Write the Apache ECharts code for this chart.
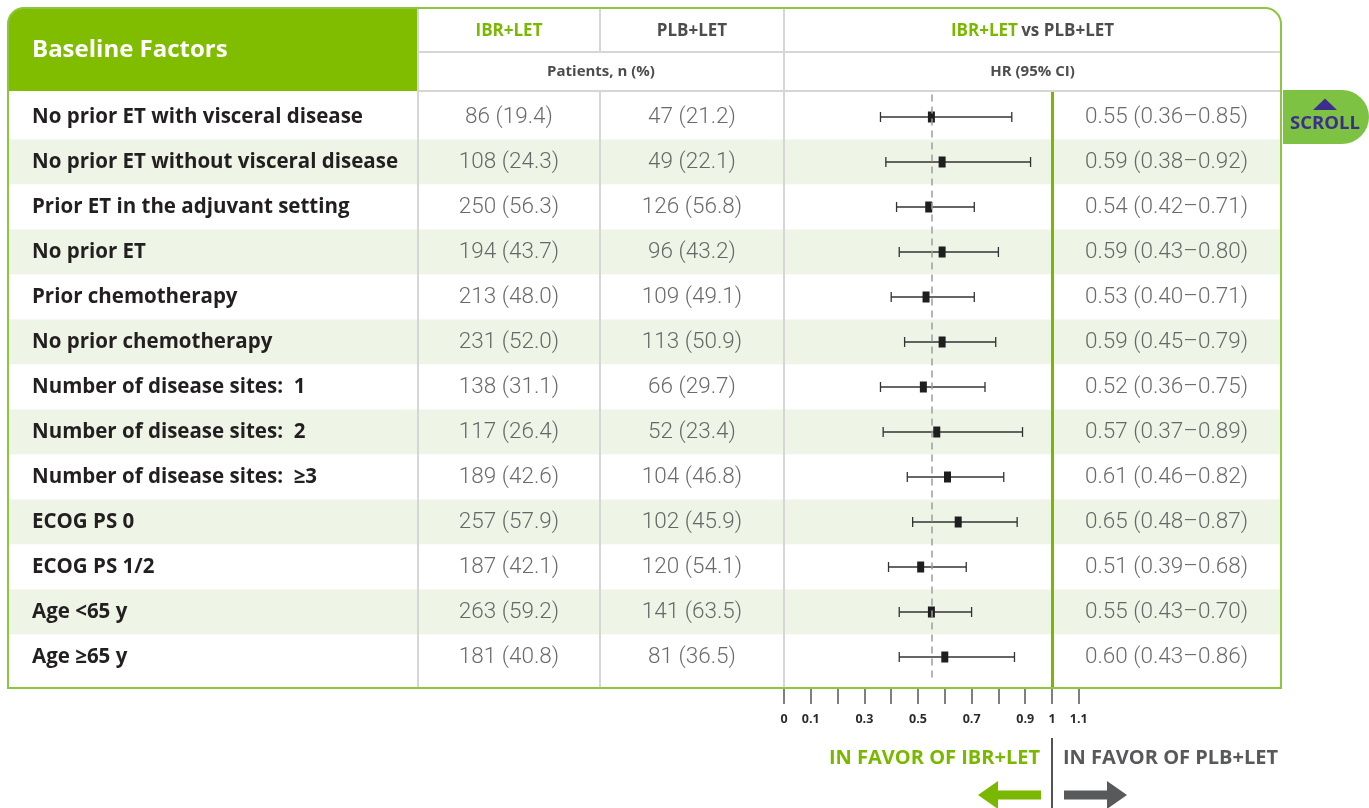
<!DOCTYPE html>
<html>
<head>
<meta charset="utf-8">
<title>Baseline Factors – HR forest plot</title>
<script src="https://cdn.jsdelivr.net/npm/echarts@6/dist/echarts.min.js"></script>
<style>
  html, body { margin: 0; padding: 0; background: #ffffff; }
  #chart { width: 1369px; height: 808px; }
</style>
</head>
<body>
<div id="chart"></div>
<script>
// ---- Data -------------------------------------------------------------
const factors = [
  'No prior ET with visceral disease',
  'No prior ET without visceral disease',
  'Prior ET in the adjuvant setting',
  'No prior ET',
  'Prior chemotherapy',
  'No prior chemotherapy',
  'Number of disease sites:  1',
  'Number of disease sites:  2',
  'Number of disease sites:  \u22653',
  'ECOG PS 0',
  'ECOG PS 1/2',
  'Age <65 y',
  'Age \u226565 y'
];
const ibrN   = [86, 108, 250, 194, 213, 231, 138, 117, 189, 257, 187, 263, 181];
const ibrPct = [19.4, 24.3, 56.3, 43.7, 48.0, 52.0, 31.1, 26.4, 42.6, 57.9, 42.1, 59.2, 40.8];
const plbN   = [47, 49, 126, 96, 109, 113, 66, 52, 104, 102, 120, 141, 81];
const plbPct = [21.2, 22.1, 56.8, 43.2, 49.1, 50.9, 29.7, 23.4, 46.8, 45.9, 54.1, 63.5, 36.5];
const hrEst  = [0.55, 0.59, 0.54, 0.59, 0.53, 0.59, 0.52, 0.57, 0.61, 0.65, 0.51, 0.55, 0.60];
const hrLow  = [0.36, 0.38, 0.42, 0.43, 0.40, 0.45, 0.36, 0.37, 0.46, 0.48, 0.39, 0.43, 0.43];
const hrHigh = [0.85, 0.92, 0.71, 0.80, 0.71, 0.79, 0.75, 0.89, 0.82, 0.87, 0.68, 0.70, 0.86];
const overallHR = 0.55;
const xTickLabels = ['0', '0.1', '', '0.3', '', '0.5', '', '0.7', '', '0.9', '1', '1.1'];

// ---- Styling ----------------------------------------------------------
const FONT = '"Open Sans", "Noto Sans", sans-serif';
const NUM_FONT = 'Roboto, "Open Sans", sans-serif';
const GREEN = '#80bc00';
const BORDER_GREEN = '#8cc63f';
const GRID_GRAY = '#d6d6d6';
const LABEL_COLOR = '#231f20';
const NUM_COLOR = '#444547';
const HEAD_GRAY = '#4d4d4f';

// Table geometry
const TBL_L = 8, TBL_T = 8, TBL_R = 1281, TBL_B = 688;
const COL_IBR = 418, COL_PLB = 600, COL_HR = 784;
const HEAD_MID = 52, HEAD_B = 91;
const ROW_TOP = 94.5, ROW_H = 45, N = factors.length;
const PX_PER_HR = 268;                 // pixels for one HR unit on the plot
const HR_MAX = 1.1;

// Value-axis window for the forest grid so that its row centres line up
// with the category rows of the text columns, while the grid itself
// runs from the header bottom to the table bottom.
const F_TOP = HEAD_B, F_BOT = TBL_B;
const yMinF = (F_TOP - (ROW_TOP + ROW_H / 2)) / ROW_H;
const yMaxF = (F_BOT - (ROW_TOP + ROW_H / 2)) / ROW_H;

const rowIdx = factors.map((_, i) => i);

function catYAxis(gridIndex, extra) {
  return Object.assign({
    type: 'category', gridIndex, inverse: true, data: factors,
    axisLine: { show: false }, axisTick: { show: false },
    axisLabel: { show: false }, splitLine: { show: false }
  }, extra || {});
}
function hiddenX(gridIndex) {
  return { type: 'value', gridIndex, min: 0, max: 1, show: false };
}
function textColumn(gridIndex, formatter) {
  return {
    type: 'scatter', xAxisIndex: gridIndex, yAxisIndex: gridIndex,
    silent: true, symbolSize: 1, itemStyle: { color: 'transparent' },
    data: rowIdx.map(i => [0.5, i]),
    label: {
      show: true, position: 'inside',
      formatter: p => formatter(p.dataIndex),
      color: NUM_COLOR, fontSize: 22.5, fontFamily: NUM_FONT, fontWeight: 300
    }
  };
}

const gridBase = { outerBoundsMode: 'none', containLabel: false };

const option = {
  animation: false,
  backgroundColor: '#ffffff',
  grid: [
    Object.assign({ left: TBL_L, top: ROW_TOP, width: TBL_R - TBL_L, height: ROW_H * N }, gridBase),   // row bands
    Object.assign({ left: COL_IBR, top: ROW_TOP, width: COL_PLB - COL_IBR, height: ROW_H * N }, gridBase), // IBR+LET n (%)
    Object.assign({ left: COL_PLB, top: ROW_TOP, width: COL_HR - COL_PLB, height: ROW_H * N }, gridBase),  // PLB+LET n (%)
    Object.assign({ left: COL_HR, top: F_TOP, width: PX_PER_HR * HR_MAX, height: F_BOT - F_TOP }, gridBase), // forest plot
    Object.assign({ left: COL_HR + PX_PER_HR, top: ROW_TOP, width: TBL_R - (COL_HR + PX_PER_HR), height: ROW_H * N }, gridBase) // HR text
  ],
  xAxis: [
    hiddenX(0), hiddenX(1), hiddenX(2),
    {
      type: 'value', gridIndex: 3, min: 0, max: HR_MAX, interval: 0.1, position: 'bottom',
      axisLine: { show: false, onZero: false },
      axisTick: { show: true, length: 16, lineStyle: { color: '#555555', width: 1.5 } },
      splitLine: { show: false },
      axisLabel: {
        show: true, margin: 25, showMinLabel: true, showMaxLabel: true,
        fontFamily: FONT, fontWeight: 'bold', fontSize: 12.5, color: '#2b2b2b',
        formatter: v => xTickLabels[Math.round(v * 10)] || ''
      }
    },
    hiddenX(4)
  ],
  yAxis: [
    catYAxis(0, {
      splitArea: { show: true, areaStyle: { color: ['#ffffff', '#eef4e6'] } }
    }),
    catYAxis(1, {
      axisLabel: {
        show: true, interval: 0, align: 'left', margin: COL_IBR - 32,
        fontFamily: FONT, fontWeight: 'bold', fontSize: 20.5, color: LABEL_COLOR
      }
    }),
    catYAxis(2),
    { type: 'value', gridIndex: 3, inverse: true, min: yMinF, max: yMaxF, show: false },
    catYAxis(4)
  ],
  series: [
    textColumn(1, i => `${ibrN[i]} (${ibrPct[i].toFixed(1)})`),
    textColumn(2, i => `${plbN[i]} (${plbPct[i].toFixed(1)})`),
    textColumn(4, i => `${hrEst[i].toFixed(2)} (${hrLow[i].toFixed(2)}\u2013${hrHigh[i].toFixed(2)})`),
    {
      type: 'custom', xAxisIndex: 3, yAxisIndex: 3, silent: true, clip: false,
      data: rowIdx.map(i => [hrLow[i], hrHigh[i], hrEst[i], i]),
      encode: { x: [0, 1, 2], y: 3 },
      renderItem(params, api) {
        const y = api.value(3);
        const pL = api.coord([api.value(0), y]);
        const pH = api.coord([api.value(1), y]);
        const pE = api.coord([api.value(2), y]);
        const ln = { stroke: '#333333', lineWidth: 1.3 };
        const cap = 5;
        return {
          type: 'group',
          children: [
            { type: 'line', shape: { x1: pL[0], y1: pL[1], x2: pH[0], y2: pH[1] }, style: ln },
            { type: 'line', shape: { x1: pL[0], y1: pL[1] - cap, x2: pL[0], y2: pL[1] + cap }, style: ln },
            { type: 'line', shape: { x1: pH[0], y1: pH[1] - cap, x2: pH[0], y2: pH[1] + cap }, style: ln },
            { type: 'rect', shape: { x: pE[0] - 3.5, y: pE[1] - 5.5, width: 7, height: 11 }, style: { fill: '#1e1e1e' } }
          ]
        };
      },
      markLine: {
        silent: true, symbol: 'none', label: { show: false },
        data: [
          [
            { coord: [overallHR, -0.5], lineStyle: { color: '#9d9d9d', width: 1.5, type: [7, 5] } },
            { coord: [overallHR, N - 0.5] }
          ],
          { xAxis: 1, lineStyle: { color: '#7ab800', width: 3, type: 'solid' } }
        ]
      }
    }
  ],
  graphic: [
    // header cell
    { type: 'rect', z: 1, shape: { x: TBL_L, y: TBL_T, width: COL_IBR - TBL_L, height: HEAD_B - TBL_T, r: [16, 0, 0, 0] }, style: { fill: GREEN } },
    { type: 'text', z: 30, x: 32, y: 50, style: { text: 'Baseline Factors', fill: '#ffffff', font: `bold 24px ${FONT}`, verticalAlign: 'middle' } },
    // column rules
    { type: 'line', z: 10, shape: { x1: COL_IBR, y1: TBL_T, x2: COL_IBR, y2: TBL_B }, style: { stroke: GRID_GRAY, lineWidth: 2 } },
    { type: 'line', z: 10, shape: { x1: COL_PLB, y1: TBL_T, x2: COL_PLB, y2: HEAD_MID }, style: { stroke: GRID_GRAY, lineWidth: 2 } },
    { type: 'line', z: 10, shape: { x1: COL_PLB, y1: HEAD_B, x2: COL_PLB, y2: TBL_B }, style: { stroke: GRID_GRAY, lineWidth: 2 } },
    { type: 'line', z: 10, shape: { x1: COL_HR, y1: TBL_T, x2: COL_HR, y2: TBL_B }, style: { stroke: GRID_GRAY, lineWidth: 2 } },
    { type: 'line', z: 10, shape: { x1: COL_IBR, y1: HEAD_MID, x2: TBL_R, y2: HEAD_MID }, style: { stroke: GRID_GRAY, lineWidth: 2 } },
    { type: 'line', z: 10, shape: { x1: COL_IBR, y1: HEAD_B, x2: TBL_R, y2: HEAD_B }, style: { stroke: GRID_GRAY, lineWidth: 2 } },
    // header texts
    { type: 'text', z: 30, x: (COL_IBR + COL_PLB) / 2, y: 31, style: { text: 'IBR+LET', fill: '#7ab800', font: `bold 17px ${FONT}`, align: 'center', verticalAlign: 'middle' } },
    { type: 'text', z: 30, x: (COL_PLB + COL_HR) / 2, y: 31, style: { text: 'PLB+LET', fill: HEAD_GRAY, font: `bold 17px ${FONT}`, align: 'center', verticalAlign: 'middle' } },
    {
      type: 'text', z: 30, x: (COL_HR + TBL_R) / 2, y: 31,
      style: {
        text: '{g|IBR+LET} {d|vs PLB+LET}', align: 'center', verticalAlign: 'middle',
        rich: {
          g: { fill: '#7ab800', font: `bold 17px ${FONT}` },
          d: { fill: HEAD_GRAY, font: `bold 17px ${FONT}` }
        }
      }
    },
    { type: 'text', z: 30, x: (COL_IBR + COL_HR) / 2, y: 72, style: { text: 'Patients, n (%)', fill: HEAD_GRAY, font: `bold 15px ${FONT}`, align: 'center', verticalAlign: 'middle' } },
    { type: 'text', z: 30, x: (COL_HR + TBL_R) / 2, y: 72, style: { text: 'HR (95% CI)', fill: HEAD_GRAY, font: `bold 15px ${FONT}`, align: 'center', verticalAlign: 'middle' } },
    // outer frame
    { type: 'rect', z: 40, shape: { x: TBL_L, y: TBL_T, width: TBL_R - TBL_L, height: TBL_B - TBL_T, r: [16, 16, 0, 0] }, style: { fill: null, stroke: BORDER_GREEN, lineWidth: 2 } },
    // scroll tab
    { type: 'rect', z: 5, shape: { x: 1283, y: 90, width: 86, height: 54, r: [0, 27, 27, 0] }, style: { fill: '#7dc242' } },
    { type: 'polygon', z: 6, shape: { points: [[1313, 110], [1337, 110], [1325, 98.5]] }, style: { fill: '#3d2e8e' } },
    { type: 'text', z: 6, x: 1325, y: 124, style: { text: 'SCROLL', fill: '#3d2e8e', font: `bold 18.5px ${FONT}`, align: 'center', verticalAlign: 'middle' } },
    // favour annotations
    { type: 'line', z: 10, shape: { x1: 1052, y1: 738, x2: 1052, y2: 808 }, style: { stroke: '#1a1a1a', lineWidth: 1.5 } },
    { type: 'text', z: 10, x: 1040, y: 758, style: { text: 'IN FAVOR OF IBR+LET', fill: '#7ab800', font: `bold 20px ${FONT}`, align: 'right', verticalAlign: 'middle' } },
    { type: 'text', z: 10, x: 1063, y: 758, style: { text: 'IN FAVOR OF PLB+LET', fill: '#58595b', font: `bold 20px ${FONT}`, align: 'left', verticalAlign: 'middle' } },
    { type: 'polygon', z: 10, shape: { points: [[978, 795], [998, 781], [998, 790.5], [1041, 790.5], [1041, 799.5], [998, 799.5], [998, 809]] }, style: { fill: '#7ab800' } },
    { type: 'polygon', z: 10, shape: { points: [[1127, 795], [1107, 781], [1107, 790.5], [1064, 790.5], [1064, 799.5], [1107, 799.5], [1107, 809]] }, style: { fill: '#58595b' } }
  ]
};

const chart = echarts.init(document.getElementById('chart'), null, { renderer: 'canvas' });
chart.setOption(option);
</script>
</body>
</html>
